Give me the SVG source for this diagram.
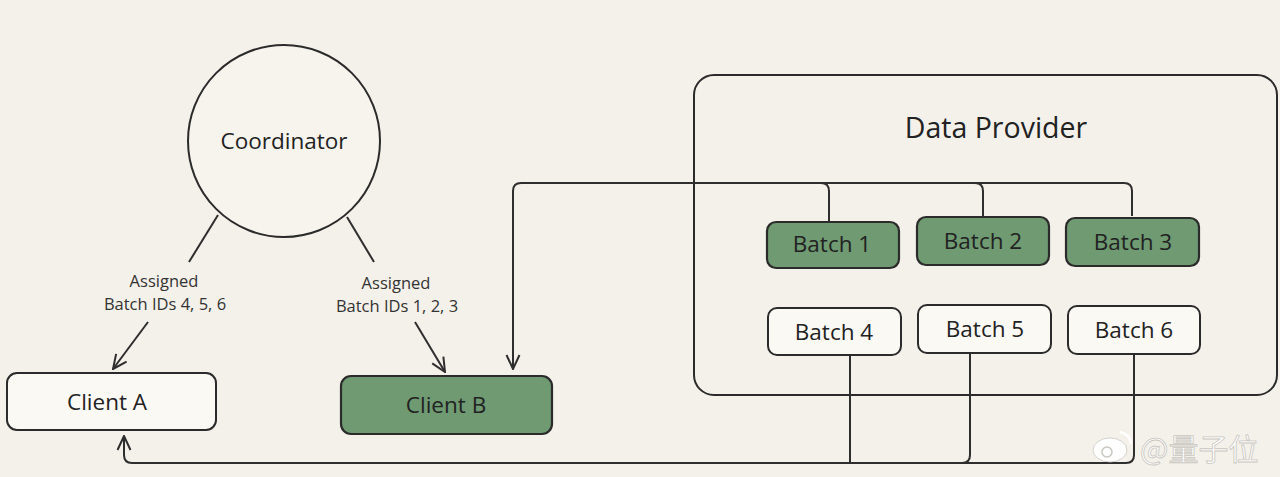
<svg xmlns="http://www.w3.org/2000/svg" width="1280" height="477" viewBox="0 0 1280 477">
<defs>
<style>
.bg{fill:#f4f1ea}
.box{fill:#fbf9f4;stroke:#2b2b2b;stroke-width:2}
.green{fill:#6f9a72;stroke:#2b2b2b;stroke-width:2.2}
.frame{fill:none;stroke:#2b2b2b;stroke-width:2}
.t{font-family:"Open Sans","Noto Sans",sans-serif;fill:#222;text-anchor:middle;font-weight:500}
.big{font-size:22.5px}
.lbl{font-size:16.5px;fill:#333}
.ln{fill:none;stroke:#2e2e2e;stroke-width:2}
.wm{font-family:"Noto Sans CJK SC",sans-serif;font-size:30px;fill:#ffffff;stroke:#c9c6bf;stroke-width:0.8}
</style>
<marker id="ahb" viewBox="0 0 16 16" refX="15" refY="8" markerWidth="16" markerHeight="16" markerUnits="userSpaceOnUse" orient="auto">
<path d="M1,1.5 L15,8 L1,14.5" fill="none" stroke="#2e2e2e" stroke-width="2"/>
</marker>
</defs>
<rect class="bg" x="0" y="0" width="1280" height="477"/>

<g id="data-provider">
<rect class="frame" x="694" y="75" width="583" height="320" rx="20"/>
<text class="t" x="996" y="138" font-size="28.5">Data Provider</text>
</g>

<g id="connectors">
<path class="ln" d="M218,215 L189,262"/>
<path class="ln" d="M148,322 L113,369" marker-end="url(#ahb)"/>
<path class="ln" d="M347,217 L374,262"/>
<path class="ln" d="M415,322 L445,372" marker-end="url(#ahb)"/>
<path class="ln" d="M1132,216 L1132,191 Q1132,183 1124,183 L521,183 Q513,183 513,191 L513,369" marker-end="url(#ahb)"/>
<path class="ln" d="M821,183 Q829,183 829,191 L829,222"/>
<path class="ln" d="M975,183 Q983,183 983,191 L983,216"/>
<path class="ln" d="M850,356 L850,463"/>
<path class="ln" d="M970,354 L970,455 Q970,463 962,463"/>
<path class="ln" d="M1134,355 L1134,455 Q1134,463 1126,463 L132,463 Q124,463 124,455 L124,436" marker-end="url(#ahb)"/>
</g>

<g id="coordinator">
<circle class="box" cx="284" cy="141" r="96" style="fill:#f7f4ee"/>
<text class="t" x="284" y="149" font-size="22.5">Coordinator</text>
</g>

<g id="label-a">
<text class="t lbl" x="164" y="287">Assigned</text>
<text class="t lbl" x="165" y="310">Batch IDs 4, 5, 6</text>
</g>
<g id="label-b">
<text class="t lbl" x="396" y="289">Assigned</text>
<text class="t lbl" x="397" y="312">Batch IDs 1, 2, 3</text>
</g>

<g id="client-a">
<rect class="box" x="7" y="373" width="209" height="57" rx="10"/>
<text class="t big" x="107" y="410">Client A</text>
</g>
<g id="client-b">
<rect class="green" x="341" y="376" width="211" height="58" rx="10"/>
<text class="t big" x="446" y="413">Client B</text>
</g>

<g id="batch-1">
<rect class="green" x="767" y="222" width="132" height="46" rx="9"/>
<text class="t big" x="832" y="252">Batch 1</text>
</g>
<g id="batch-2">
<rect class="green" x="917" y="217" width="132" height="48" rx="9"/>
<text class="t big" x="983" y="249">Batch 2</text>
</g>
<g id="batch-3">
<rect class="green" x="1066" y="218" width="133" height="48" rx="9"/>
<text class="t big" x="1133" y="250">Batch 3</text>
</g>
<g id="batch-4">
<rect class="box" x="768" y="308" width="133" height="47" rx="9"/>
<text class="t big" x="834" y="340">Batch 4</text>
</g>
<g id="batch-5">
<rect class="box" x="918" y="305" width="133" height="48" rx="9"/>
<text class="t big" x="985" y="337">Batch 5</text>
</g>
<g id="batch-6">
<rect class="box" x="1068" y="306" width="132" height="48" rx="9"/>
<text class="t big" x="1134" y="338">Batch 6</text>
</g>

<g id="watermark">
<ellipse cx="1110" cy="450" rx="17" ry="12" fill="#ffffff" stroke="#c9c6bf" stroke-width="0.8"/>
<circle cx="1107" cy="452" r="5" fill="none" stroke="#c9c6bf" stroke-width="1.5"/>
<path d="M1120,432 Q1130,434 1131,444" fill="none" stroke="#ffffff" stroke-width="2.5"/>
<text class="wm" x="1140" y="460" text-anchor="start">@量子位</text>
</g>
</svg>
